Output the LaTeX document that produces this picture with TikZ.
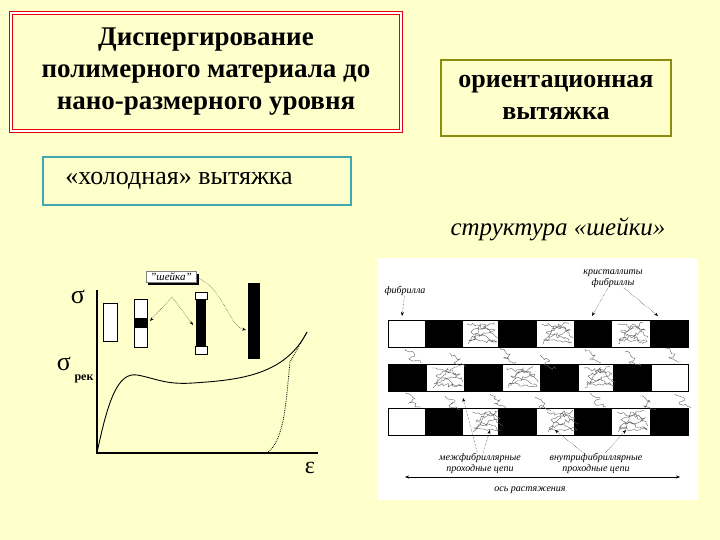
\documentclass[tikz,border=0pt]{standalone}
\usepackage{fontspec}
\setmainfont{Liberation Serif}
\usetikzlibrary{decorations.pathmorphing,arrows.meta}
\definecolor{bg}{HTML}{FFFFCC}
\definecolor{redb}{HTML}{E00010}
\definecolor{olv}{HTML}{8C8C10}
\definecolor{tealb}{HTML}{40A8B0}
\tikzset{
 lbl/.style={font=\fontsize{10}{11}\selectfont\itshape, align=center, inner sep=0pt},
 tan/.style={gray!80!black, line width=0.4pt, decorate, decoration={random steps, segment length=2.5pt, amplitude=2pt}},
 darr/.style={densely dotted, -{Stealth[length=4pt]}},
 wbox/.style={draw, fill=white, line width=0.6pt},
}
\begin{document}
\begin{tikzpicture}[x=1pt,y=-1pt]
\fill[bg] (0,0) rectangle (720,540);
\useasboundingbox (0,0) rectangle (720,540);
\node[draw=redb, double=white, double distance=1.5pt, line width=1.3pt, fill=bg, minimum width=390, minimum height=118, align=center, font=\fontsize{27}{32}\selectfont\bfseries] (disp) at (206,72) {Диспергирование\\полимерного материала до\\нано-размерного уровня};
\node[draw=olv, line width=2.2pt, fill=bg, minimum width=230, minimum height=76, align=center, font=\fontsize{26}{32}\selectfont\bfseries] (orient) at (556,98) {ориентационная\\вытяжка};
\node[draw=tealb, line width=1.5pt, fill=bg, minimum width=308, minimum height=48, font=\fontsize{26}{30}\selectfont] (cold) at (197,181) {\hspace*{-36pt}«холодная» вытяжка};
\node[font=\fontsize{25}{30}\selectfont\itshape] (neck) at (558,229) {структура «шейки»};
% graph
\coordinate (o) at (97,453);
\draw[line width=1.6pt] (97,290) -- (o) -- (318,453);
\node[font=\fontsize{26}{28}\selectfont] (sig) at (78,297) {σ};
\node[font=\fontsize{26}{28}\selectfont] (sigr) at (64,364) {σ};
\node[font=\fontsize{12}{13}\selectfont\bfseries] (rek) at (84,379) {рек};
\node[font=\fontsize{24}{26}\selectfont] (eps) at (310,468) {ε};
\draw[line width=0.9pt] (o) .. controls (108,400) and (118,372) .. (137,375) .. controls (155,378) and (165,385) .. (193,383) .. controls (240,380) and (285,375) .. (307,332);
\draw[densely dotted, line width=0.8pt] (267,453) .. controls (285,440) and (286,400) .. (290,362) -- (307,332);
\draw[wbox] (103,303) rectangle (117,341);
\draw[wbox] (134,299) rectangle (147,347);
\fill (134,318) rectangle (147,328);
\fill (196,297) rectangle (206,350);
\draw[wbox] (195,292) rectangle (207,299);
\draw[wbox] (195,346) rectangle (207,354);
\fill (248,283) rectangle (260,359);
\fill (148,274) rectangle (199,285);
\node[wbox, draw=gray, minimum width=50, minimum height=11, inner sep=0pt, font=\fontsize{11}{12}\selectfont\itshape] (shlbl) at (171,277) {"шейка"};
\coordinate (peak) at (172,297);
\draw[darr] (peak) -- (150,321);
\draw[darr] (peak) -- (193,325);
\draw[darr] (shlbl.east) .. controls (225,290) and (228,325) .. (246,330);
% panel
\fill[white] (378,258) rectangle (698,500);
\foreach \y/\r in {320/1,364/2,408/3}{
  \draw[line width=0.5pt] (388,\y) rectangle (688,\y+27);
}
\foreach \a/\b in {425/463,498/537,574/612,650/688}{
  \fill (\a,320) rectangle (\b,347);
  \fill (\a,408) rectangle (\b,435);
}
\foreach \a/\b in {388/427,464/503,540/579,613/652}{
  \fill (\a,364) rectangle (\b,391);
}
% tangled chains
\foreach \x/\y in {465/320,540/320,615/320,430/364,505/364,582/364,470/408,545/408,615/408}{
  \draw[tan] (\x+2,\y+4) -- (\x+30,\y+10) -- (\x+4,\y+20) -- (\x+32,\y+22) -- (\x+6,\y+12) -- (\x+28,\y+3);
  \draw[tan] (\x+3,\y+24) -- (\x+18,\y+4) -- (\x+33,\y+18);
}
\foreach \x/\y in {405/349,450/353,500/348,540/355,585/349,625/352,665/348,405/393,445/396,490/394,535/397,590/393,640/396,675/394}{
  \draw[tan] (\x,\y) -- (\x+10,\y+6) -- (\x+4,\y+10) -- (\x+16,\y+14);
}
\node[lbl] (fib) at (405,291) {фибрилла};
\node[lbl] (kr) at (613,279) {кристаллиты\\фибриллы};
\node[lbl] (mf) at (480,463) {межфибриллярные\\проходные цепи};
\node[lbl] (vf) at (596,463) {внутрифибриллярные\\проходные цепи};
\node[lbl] (os) at (530,490) {ось растяжения};
\draw[darr] (fib) -- (402,316);
\draw[darr] (kr) -- (592,316);
\draw[darr] (kr) -- (658,316);
\draw[darr] (mf) -- (463,398);
\draw[darr] (mf) -- (490,430);
\draw[darr] (vf) -- (555,430);
\draw[darr] (vf) -- (626,430);
\coordinate (axl) at (405,477);
\coordinate (axr) at (680,477);
\draw[{Stealth[length=4pt]}-{Stealth[length=4pt]}, line width=0.4pt] (axl) -- (axr);
\end{tikzpicture}
\end{document}
